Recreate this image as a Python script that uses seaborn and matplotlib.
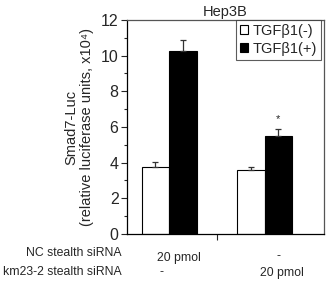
import numpy as np
import pandas as pd
import matplotlib
matplotlib.use("Agg")
import matplotlib.pyplot as plt
from matplotlib.ticker import FixedLocator, MultipleLocator
import seaborn as sns

# values (x10^4 relative luciferase units)
groups = ["NC", "km23-2"]
treatments = ["TGF\u03b21(-)", "TGF\u03b21(+)"]
means_minus = [3.74, 3.59]
means_plus = [10.26, 5.50]
sem_minus = [0.28, 0.15]
sem_plus = [0.62, 0.37]
nc_row = ["20 pmol", "-"]
km_row = ["-", "20 pmol"]

df = pd.DataFrame({
    "group": groups * 2,
    "treatment": [treatments[0]] * 2 + [treatments[1]] * 2,
    "value": means_minus + means_plus,
})
errs = {treatments[0]: sem_minus, treatments[1]: sem_plus}

sns.set_style("ticks")
plt.rcParams["font.family"] = ["Liberation Sans", "DejaVu Sans"]

fig = plt.figure(figsize=(3.28, 2.84), dpi=100)
ax = fig.add_axes([0.387, 0.176, 0.601, 0.754])

sns.barplot(data=df, x="group", y="value", hue="treatment", hue_order=treatments,
            palette=["white", "black"], edgecolor="black", linewidth=0.8,
            width=0.58, gap=0, errorbar=None, ax=ax)

# one-sided error bars on top of each bar
for cont, t in zip(ax.containers, treatments):
    for bar, e in zip(cont.patches, errs[t]):
        xc = bar.get_x() + bar.get_width() / 2
        h = bar.get_height()
        ax.errorbar(xc, h, yerr=[[0], [e]], fmt="none", ecolor="#333333",
                    elinewidth=0.9, capsize=2, capthick=0.9)

# significance star over km23-2 / TGFb1(+)
sb = ax.containers[1].patches[1]
ax.text(sb.get_x() + sb.get_width() / 2, sb.get_height() + sem_plus[1] + 0.3, "*",
        ha="center", va="bottom", fontsize=8)

ax.set_ylim(0, 12)
ax.set_xlim(-0.444, 1.625)
ax.yaxis.set_major_locator(MultipleLocator(2))
ax.yaxis.set_minor_locator(MultipleLocator(1))
ax.tick_params(axis="y", which="major", length=4, width=0.8, labelsize=11.5, pad=2)
ax.tick_params(axis="y", which="minor", length=2.5, width=0.8)
ax.xaxis.set_major_locator(FixedLocator([0.5]))
ax.set_xticklabels([""])
ax.tick_params(axis="x", length=4, width=0.8)

for s in ["left", "bottom"]:
    ax.spines[s].set_color("black")
    ax.spines[s].set_linewidth(0.9)
for s in ["top", "right"]:
    ax.spines[s].set_visible(True)
    ax.spines[s].set_color("#555555")
    ax.spines[s].set_linewidth(0.9)

ax.set_xlabel("")
ax.set_ylabel("Smad7-Luc\n(relative luciferase units, x10\u2074)", fontsize=10.5,
              linespacing=1.1, labelpad=5)
ax.set_title("Hep3B", fontsize=10.5, pad=3)

leg = ax.legend(loc="upper right", bbox_to_anchor=(0.982, 1.0), borderaxespad=0,
                frameon=True, fancybox=False, edgecolor="#333333", fontsize=10.5,
                handlelength=0.55, handleheight=0.55, handletextpad=0.3,
                borderpad=0.25, labelspacing=0.3)
leg.get_frame().set_linewidth(0.8)
leg.set_title(None)

# condition table under the axis
trans = ax.get_xaxis_transform()
fs = 8.8
ax.text(-0.50, -0.089, "NC stealth siRNA", transform=trans, ha="right", va="center", fontsize=fs)
ax.text(-0.50, -0.178, "km23-2 stealth siRNA", transform=trans, ha="right", va="center", fontsize=fs)
ax.text(0.097, -0.112, nc_row[0], transform=trans, ha="center", va="center", fontsize=fs)
ax.text(-0.077, -0.178, km_row[0], transform=trans, ha="center", va="center", fontsize=fs)
ax.text(1.142, -0.105, nc_row[1], transform=trans, ha="center", va="center", fontsize=fs)
ax.text(1.184, -0.182, km_row[1], transform=trans, ha="center", va="center", fontsize=fs)

fig.savefig("out.png", dpi=100)
